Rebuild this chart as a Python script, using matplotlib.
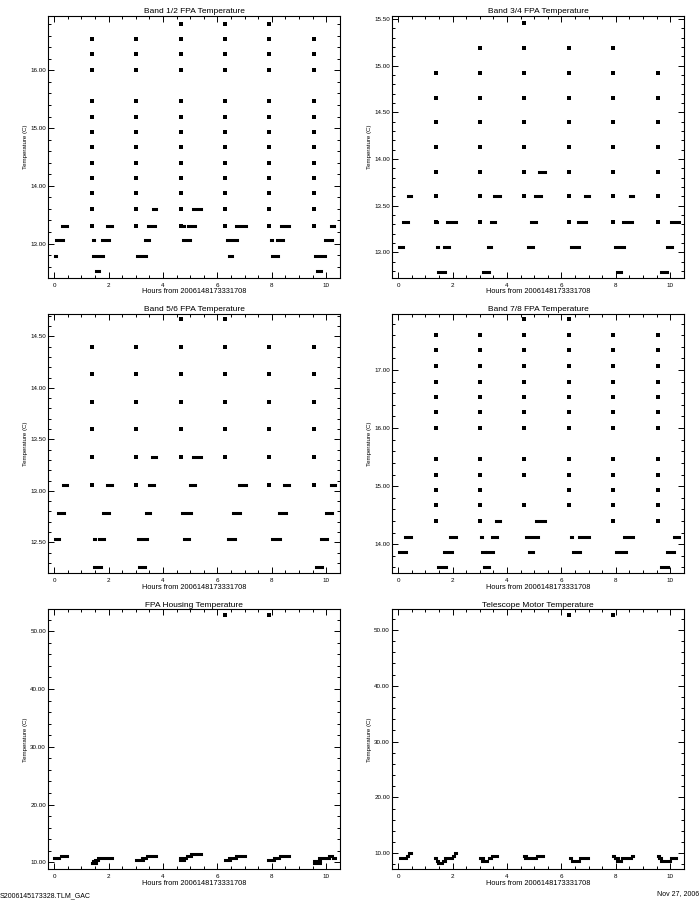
import numpy as np
import matplotlib
matplotlib.use("Agg")
import matplotlib.pyplot as plt
from matplotlib.ticker import MultipleLocator, FormatStrFormatter

plt.rcParams['font.family'] = ['Liberation Sans', 'DejaVu Sans']

XLABEL = "Hours from 2006148173331708"
FOOT_LEFT = "S2006145173328.TLM_GAC"
FOOT_RIGHT = "Nov 27, 2006"

# ---- Band 1/2 FPA ----
b12_col_t = [1.37, 3.00, 4.65, 6.29, 7.91, 9.56]
b12_col_y = [
    [16.54, 16.28, 16.00, 15.47, 15.20, 14.93, 14.67, 14.40, 14.13, 13.87, 13.59, 13.31],
    [16.54, 16.28, 16.00, 15.47, 15.20, 14.93, 14.67, 14.40, 14.13, 13.87, 13.59, 13.31],
    [16.81, 16.54, 16.28, 16.00, 15.47, 15.20, 14.93, 14.67, 14.40, 14.13, 13.87, 13.59, 13.31],
    [16.81, 16.54, 16.28, 16.00, 15.47, 15.20, 14.93, 14.67, 14.40, 14.13, 13.87, 13.59, 13.31],
    [16.81, 16.54, 16.28, 16.00, 15.47, 15.20, 14.93, 14.67, 14.40, 14.13, 13.87, 13.59, 13.31],
    [16.54, 16.28, 16.00, 15.47, 15.20, 14.93, 14.67, 14.40, 14.13, 13.87, 13.59, 13.31],
]
b12_run_t0 = [0.02, 0.08, 0.27,
              1.44, 1.43, 1.52, 1.74, 1.95,
              3.07, 3.05, 3.32, 3.43, 3.64,
              4.70, 4.72, 4.93, 5.11,
              6.34, 6.42, 6.67,
              7.99, 8.00, 8.20, 8.33,
              9.61, 9.58, 9.68, 9.95, 10.17]
b12_run_t1 = [0.08, 0.31, 0.48,
              1.45, 1.81, 1.64, 2.03, 2.13,
              3.08, 3.38, 3.50, 3.71, 3.75,
              4.79, 5.00, 5.16, 5.40,
              6.73, 6.53, 7.04,
              8.02, 8.23, 8.43, 8.63,
              9.62, 9.97, 9.80, 10.23, 10.29]
b12_run_y = [12.78, 13.06, 13.31,
             13.06, 12.78, 12.52, 13.06, 13.31,
             13.06, 12.78, 13.06, 13.31, 13.59,
             13.31, 13.06, 13.31, 13.59,
             13.06, 12.78, 13.31,
             13.06, 12.78, 13.06, 13.31,
             13.06, 12.78, 12.52, 13.06, 13.31]

# ---- Band 3/4 FPA ----
b34_col_t = [1.38, 3.02, 4.63, 6.28, 7.91, 9.56]
b34_col_y = [
    [14.92, 14.65, 14.40, 14.13, 13.86, 13.60, 13.33],
    [15.19, 14.92, 14.65, 14.40, 14.13, 13.86, 13.60, 13.33],
    [15.46, 15.19, 14.92, 14.65, 14.40, 14.13, 13.86, 13.60],
    [15.19, 14.92, 14.65, 14.40, 14.13, 13.86, 13.60, 13.33],
    [15.19, 14.92, 14.65, 14.40, 14.13, 13.86, 13.60, 13.33],
    [14.92, 14.65, 14.40, 14.13, 13.86, 13.60, 13.33],
]
b34_run_t0 = [0.02, 0.16, 0.34,
              1.40, 1.44, 1.45, 1.70, 1.79,
              3.06, 3.08, 3.12, 3.29, 3.41, 3.51, 3.71,
              4.72, 4.76, 4.90, 5.02, 5.19,
              6.36, 6.60, 6.86,
              7.98, 7.96, 8.03, 8.28, 8.52,
              9.58, 9.63, 9.65, 9.90, 10.02]
b34_run_t1 = [0.19, 0.37, 0.46,
              1.44, 1.45, 1.71, 1.85, 2.12,
              3.06, 3.08, 3.32, 3.40, 3.55, 3.74, 3.72,
              4.73, 4.94, 5.07, 5.25, 5.40,
              6.64, 6.91, 7.01,
              7.98, 8.32, 8.20, 8.60, 8.63,
              9.60, 9.64, 9.89, 10.08, 10.32]
b34_run_y = [13.06, 13.33, 13.60,
             13.33, 13.06, 12.79, 13.06, 13.33,
             13.33, 13.06, 12.79, 13.06, 13.33, 13.60, 13.86,
             13.33, 13.06, 13.33, 13.60, 13.86,
             13.06, 13.33, 13.60,
             13.33, 13.06, 12.79, 13.33, 13.60,
             13.33, 13.06, 12.79, 13.06, 13.33]

# ---- Band 5/6 FPA ----
b56_col_t = [1.37, 3.00, 4.65, 6.29, 7.91, 9.56]
b56_col_y = [
    [14.40, 14.13, 13.86, 13.60, 13.33, 13.06],
    [14.40, 14.13, 13.86, 13.60, 13.33, 13.06],
    [14.67, 14.40, 14.13, 13.86, 13.60, 13.33],
    [14.67, 14.40, 14.13, 13.86, 13.60, 13.33],
    [14.40, 14.13, 13.86, 13.60, 13.33, 13.06],
    [14.40, 14.13, 13.86, 13.60, 13.33, 13.06],
]
b56_run_t0 = [0.02, 0.13, 0.31,
              1.44, 1.46, 1.46, 1.66, 1.79, 1.95,
              3.04, 3.08, 3.11, 3.25, 3.36, 3.48, 3.60,
              4.70, 4.77, 4.68, 5.01, 5.11,
              6.34, 6.34, 6.39, 6.57, 6.79,
              7.98, 8.00, 8.27, 8.45,
              9.61, 9.63, 9.62, 9.82, 9.98, 10.17]
b56_run_t1 = [0.16, 0.35, 0.47,
              1.44, 1.72, 1.48, 1.82, 2.00, 2.13,
              3.04, 3.15, 3.32, 3.42, 3.53, 3.66, 3.75,
              4.71, 4.94, 5.04, 5.18, 5.40,
              6.35, 6.35, 6.63, 6.84, 7.04,
              7.98, 8.29, 8.51, 8.65,
              9.61, 9.64, 9.86, 10.04, 10.23, 10.31]
b56_run_y = [12.53, 12.79, 13.06,
             12.79, 12.26, 12.53, 12.53, 12.79, 13.06,
             12.79, 12.53, 12.26, 12.53, 12.79, 13.06, 13.33,
             13.06, 12.53, 12.79, 13.06, 13.33,
             13.06, 12.79, 12.53, 12.79, 13.06,
             12.79, 12.53, 12.79, 13.06,
             12.79, 12.53, 12.26, 12.53, 12.79, 13.06]

# ---- Band 7/8 FPA ----
b78_col_t = [1.38, 3.02, 4.63, 6.28, 7.91, 9.56]
b78_col_y = [
    [17.60, 17.34, 17.07, 16.80, 16.53, 16.27, 16.00, 15.46, 15.20, 14.93, 14.67, 14.40],
    [17.60, 17.34, 17.07, 16.80, 16.53, 16.27, 16.00, 15.46, 15.20, 14.93, 14.67, 14.40],
    [17.87, 17.60, 17.34, 17.07, 16.80, 16.53, 16.27, 16.00, 15.46, 15.20, 14.67],
    [17.87, 17.60, 17.34, 17.07, 16.80, 16.53, 16.27, 16.00, 15.46, 15.20, 14.93, 14.67],
    [17.60, 17.34, 17.07, 16.80, 16.53, 16.27, 16.00, 15.46, 15.20, 14.93, 14.67, 14.40],
    [17.60, 17.34, 17.07, 16.80, 16.53, 16.27, 16.00, 15.46, 15.20, 14.93, 14.67, 14.40],
]
b78_run_t0 = [0.02, 0.23, 0.44,
              1.43, 1.46, 1.48, 1.70, 1.91,
              3.06, 3.08, 3.14, 3.26, 3.45, 3.61,
              4.70, 4.71, 4.80, 5.08,
              6.34, 6.37, 6.43, 6.64, 6.97,
              7.98, 8.02, 8.32,
              9.62, 9.65, 9.65, 9.90, 10.14]
b78_run_t1 = [0.28, 0.46, 0.44,
              1.43, 1.46, 1.75, 1.96, 2.12,
              3.08, 3.18, 3.32, 3.47, 3.65, 3.74,
              4.71, 5.13, 4.94, 5.40,
              6.35, 6.38, 6.69, 7.01, 6.97,
              7.99, 8.36, 8.65,
              9.62, 9.65, 9.92, 10.16, 10.32]
b78_run_y = [13.86, 14.13, 14.40,
             14.13, 13.86, 13.60, 13.86, 14.13,
             14.13, 13.86, 13.60, 13.86, 14.13, 14.40,
             14.40, 14.13, 13.86, 14.40,
             14.40, 14.13, 13.86, 14.13, 14.40,
             14.13, 13.86, 14.13,
             14.13, 13.86, 13.60, 13.86, 14.13]

# ---- FPA Housing ----
hous_col_t = [6.29, 7.91]
hous_col_y = [[52.8], [52.8]]
hous_run_t0 = [0.00, 0.23,
               1.37, 1.42, 1.49, 1.60,
               2.99, 3.24, 3.42,
               4.62, 4.62, 4.87, 5.02,
               6.28, 6.43, 6.70,
               7.87, 8.08, 8.32,
               9.55, 9.55, 9.72, 10.12, 10.24]
hous_run_t1 = [0.19, 0.47,
               1.54, 1.54, 1.60, 2.13,
               3.26, 3.38, 3.75,
               4.77, 4.83, 5.02, 5.40,
               6.45, 6.70, 7.02,
               8.08, 8.28, 8.65,
               9.76, 9.76, 10.10, 10.23, 10.31]
hous_run_y = [10.69, 11.04,
              9.83, 10.17, 10.35, 10.69,
              10.35, 10.69, 11.04,
              10.35, 10.69, 11.04, 11.38,
              10.35, 10.69, 11.04,
              10.35, 10.69, 11.04,
              9.83, 10.17, 10.69, 11.04, 10.69]

# ---- Telescope Motor ----
mot_col_t = [6.29, 7.91]
mot_col_y = [[52.7], [52.7]]
mot_run_t0 = [0.01, 0.07, 0.31, 0.41,
              1.36, 1.42, 1.48, 1.64, 1.73, 2.03, 2.10,
              2.99, 3.09, 3.32, 3.45, 3.69, 3.73,
              4.61, 4.67, 5.11, 5.35,
              6.27, 6.33, 6.40, 6.70, 7.01, 7.05,
              7.91, 7.99, 8.06, 8.24, 8.61,
              9.57, 9.60, 9.65, 10.02, 10.26, 10.29]
mot_run_t1 = [0.03, 0.27, 0.37, 0.46,
              1.38, 1.48, 1.62, 1.72, 1.99, 2.06, 2.12,
              3.10, 3.28, 3.41, 3.65, 3.69, 3.74,
              4.70, 5.07, 5.31, 5.37,
              6.29, 6.36, 6.66, 6.97, 7.01, 7.06,
              7.95, 8.08, 8.20, 8.57, 8.63,
              9.59, 9.67, 9.98, 10.23, 10.26, 10.30]
mot_run_y = [8.69, 9.10, 9.52, 10.00,
             9.10, 8.69, 8.21, 8.69, 9.10, 9.52, 10.00,
             9.10, 8.69, 9.10, 9.52, 10.00, 10.42,
             9.52, 9.10, 9.52, 10.00,
             9.52, 9.10, 8.69, 9.10, 9.52, 10.00,
             9.52, 9.10, 8.69, 9.10, 9.52,
             9.52, 9.10, 8.69, 9.10, 9.52, 10.00]

panels = [
    ("Band 1/2 FPA Temperature", b12_col_t, b12_col_y, b12_run_t0, b12_run_t1, b12_run_y,
     (12.41, 16.94), 1.0, 0.2, [0.069, 0.6915, 0.4171, 0.2907]),
    ("Band 3/4 FPA Temperature", b34_col_t, b34_col_y, b34_run_t0, b34_run_t1, b34_run_y,
     (12.73, 15.53), 0.5, 0.1, [0.5604, 0.6915, 0.4171, 0.2907]),
    ("Band 5/6 FPA Temperature", b56_col_t, b56_col_y, b56_run_t0, b56_run_t1, b56_run_y,
     (12.20, 14.72), 0.5, 0.1, [0.069, 0.3630, 0.4171, 0.2885]),
    ("Band 7/8 FPA Temperature", b78_col_t, b78_col_y, b78_run_t0, b78_run_t1, b78_run_y,
     (13.50, 17.97), 1.0, 0.2, [0.5604, 0.3630, 0.4171, 0.2885]),
    ("FPA Housing Temperature", hous_col_t, hous_col_y, hous_run_t0, hous_run_t1, hous_run_y,
     (8.79, 53.8), 10.0, 2.0, [0.069, 0.0341, 0.4171, 0.2889]),
    ("Telescope Motor Temperature", mot_col_t, mot_col_y, mot_run_t0, mot_run_t1, mot_run_y,
     (7.13, 53.7), 10.0, 2.0, [0.5604, 0.0341, 0.4171, 0.2889]),
]

fig = plt.figure(figsize=(7, 9), dpi=100)

for title, col_t, col_y, r0, r1, ry, ylim, major, minor, rect in panels:
    ax = fig.add_axes(rect)
    # vertical columns of samples at the start of each segment
    pt = np.concatenate([[t] * len(ys) for t, ys in zip(col_t, col_y)])
    py = np.concatenate(col_y)
    ax.scatter(pt, py, marker='s', s=5, c='k', linewidths=0)
    # runs of samples at a constant quantized level
    ax.hlines(ry, r0, r1, colors='k', linewidth=2.2, capstyle='projecting')

    ax.set_xlim(-0.22, 10.52)
    ax.set_ylim(*ylim)
    ax.xaxis.set_major_locator(MultipleLocator(2))
    ax.xaxis.set_minor_locator(MultipleLocator(0.5))
    ax.yaxis.set_major_locator(MultipleLocator(major))
    ax.yaxis.set_minor_locator(MultipleLocator(minor))
    ax.yaxis.set_major_formatter(FormatStrFormatter('%.2f'))
    ax.tick_params(which='both', direction='in', top=True, right=True,
                   width=0.7, labelsize=4.5, colors='k')
    ax.tick_params(which='major', length=4.5)
    ax.tick_params(which='minor', length=2.5)
    ax.tick_params(axis='x', pad=3.5)
    ax.tick_params(axis='y', pad=1.7)
    for sp in ax.spines.values():
        sp.set_linewidth(0.8)
    ax.set_title(title, fontsize=6, pad=2)
    ax.set_xlabel(XLABEL, fontsize=5.3, labelpad=0.5)
    ax.set_ylabel("Temperature (C)", fontsize=4.4, labelpad=1.5)

fig.text(0.0, 0.001, FOOT_LEFT, fontsize=5, ha='left', va='bottom')
fig.text(0.999, 0.003, FOOT_RIGHT, fontsize=5, ha='right', va='bottom')

fig.savefig("out.png", dpi=100)
